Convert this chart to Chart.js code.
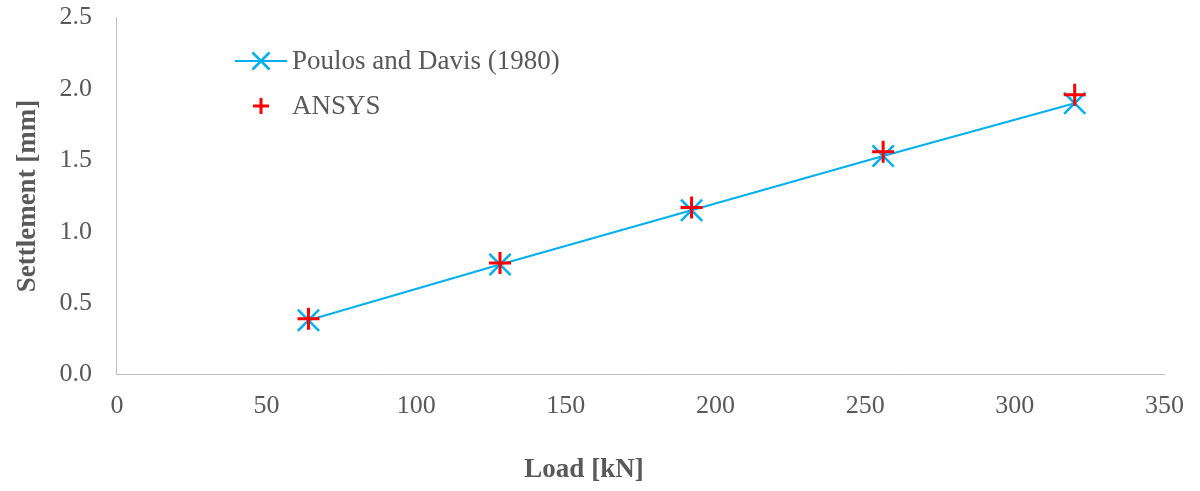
<!DOCTYPE html>
<html>
<head>
<meta charset="utf-8">
<title>Settlement vs Load</title>
<script src="https://cdn.jsdelivr.net/npm/chart.js@4/dist/chart.umd.min.js"></script>
<style>
  html, body { margin: 0; padding: 0; background: #ffffff; }
  #wrap { width: 1200px; height: 491px; position: relative; }
</style>
</head>
<body>
<div id="wrap"><canvas id="chart"></canvas></div>
<script>
// Applied load on the pile [kN]
const loads = [64, 128, 192, 256, 320];
// Settlement by the Poulos and Davis (1980) method [mm]
const poulosSettlement = [0.38, 0.77, 1.15, 1.53, 1.90];
// Settlement from the ANSYS model [mm]
const ansysSettlement = [0.39, 0.78, 1.17, 1.56, 1.96];

const seriesNames = ['Poulos and Davis (1980)', 'ANSYS'];
const xTitle = 'Load [kN]';
const yTitle = 'Settlement [mm]';

const TEXT = '#595959';
const AXIS = '#BFBFBF';
const BLUE = '#00B0F0';
const RED = '#FF0000';
const FONT = '"Liberation Serif", "Times New Roman", serif';

const toPoints = (xs, ys) => xs.map((x, i) => ({ x: x, y: ys[i] }));

// Legend drawn inside the plot area, top-left
const innerLegend = {
  id: 'innerLegend',
  afterDatasetsDraw(chart) {
    const ctx = chart.ctx;
    ctx.save();
    ctx.font = '27px ' + FONT;
    ctx.fillStyle = TEXT;
    ctx.textBaseline = 'middle';
    ctx.textAlign = 'left';

    // Row 1: line + rotated cross
    const y1 = 61;
    ctx.strokeStyle = BLUE;
    ctx.lineWidth = 2;
    ctx.beginPath();
    ctx.moveTo(235, y1); ctx.lineTo(287, y1);
    ctx.stroke();
    ctx.lineWidth = 2.5;
    const d = 8.5;
    ctx.beginPath();
    ctx.moveTo(261 - d, y1 - d); ctx.lineTo(261 + d, y1 + d);
    ctx.moveTo(261 - d, y1 + d); ctx.lineTo(261 + d, y1 - d);
    ctx.stroke();
    ctx.fillText(seriesNames[0], 292, y1 + 1);

    // Row 2: plus marker
    const y2 = 106;
    ctx.strokeStyle = RED;
    ctx.lineWidth = 3;
    const p = 8;
    ctx.beginPath();
    ctx.moveTo(261 - p, y2); ctx.lineTo(261 + p, y2);
    ctx.moveTo(261, y2 - p); ctx.lineTo(261, y2 + p);
    ctx.stroke();
    ctx.fillText(seriesNames[1], 292, y2 + 1);
    ctx.restore();
  }
};

new Chart(document.getElementById('chart'), {
  type: 'scatter',
  data: {
    datasets: [
      {
        label: seriesNames[1],
        data: toPoints(loads, ansysSettlement),
        showLine: false,
        pointStyle: 'cross',
        pointRadius: 11,
        pointHoverRadius: 11,
        pointBorderWidth: 3,
        borderColor: RED,
        backgroundColor: RED,
        order: 0
      },
      {
        label: seriesNames[0],
        data: toPoints(loads, poulosSettlement),
        showLine: true,
        borderColor: BLUE,
        backgroundColor: BLUE,
        borderWidth: 2,
        pointStyle: 'crossRot',
        pointRadius: 15,
        pointHoverRadius: 15,
        pointBorderWidth: 2.5,
        pointBorderColor: BLUE,
        order: 1
      }
    ]
  },
  options: {
    responsive: true,
    maintainAspectRatio: false,
    animation: false,
    layout: { autoPadding: false, padding: { left: 0, right: 32, top: 0, bottom: 0 } },
    plugins: {
      legend: { display: false },
      tooltip: { enabled: false },
      title: {
        display: true,
        position: 'bottom',
        text: xTitle,
        color: TEXT,
        font: { family: FONT, size: 27, weight: 'bold' },
        padding: { top: 16, bottom: 5 }
      }
    },
    scales: {
      x: {
        type: 'linear',
        min: 0,
        max: 350,
        grid: { display: false, drawTicks: false },
        border: { display: true, color: AXIS, width: 1 },
        ticks: {
          stepSize: 50,
          padding: 16,
          color: TEXT,
          font: { family: FONT, size: 26 }
        }
      },
      y: {
        type: 'linear',
        min: 0,
        max: 2.5,
        // invisible tick marks keep the labels clear of the axis line
        grid: { display: true, drawOnChartArea: false, drawTicks: true, tickLength: 23, color: 'rgba(0,0,0,0)' },
        border: { display: true, color: AXIS, width: 1 },
        ticks: {
          stepSize: 0.5,
          padding: 2,
          color: TEXT,
          font: { family: FONT, size: 26 },
          callback: (v) => Number(v).toFixed(1)
        },
        title: {
          display: true,
          text: yTitle,
          color: TEXT,
          font: { family: FONT, size: 27, weight: 'bold' },
          padding: { top: 12, bottom: 13 }
        }
      }
    }
  },
  plugins: [innerLegend]
});
</script>
</body>
</html>
